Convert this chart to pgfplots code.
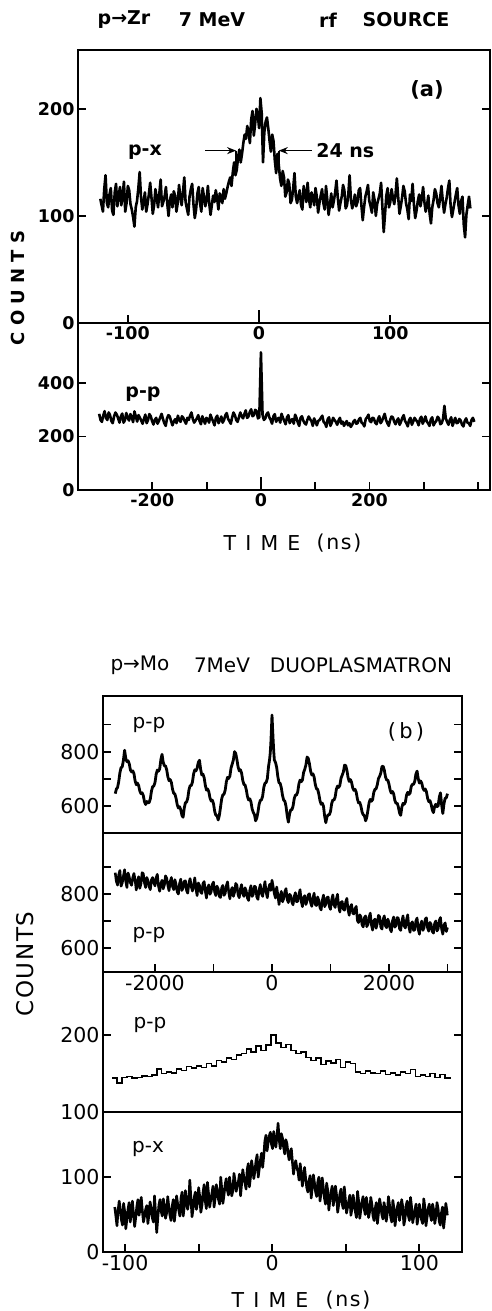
\documentclass[border=0pt]{standalone}
\usepackage{fontspec}
\setmainfont{DejaVu Sans}
\usepackage{pgfplots}
\pgfplotsset{compat=1.18}
\usetikzlibrary{arrows.meta}

\newcommand\fa{\fontsize{17.5}{20}\selectfont\bfseries}
\newcommand\fb{\fontsize{20.5}{24}\selectfont}

\pgfplotsset{panel/.style={scale only axis, anchor=south west,
    axis line style={line width=2pt},
    every tick/.style={black, line width=1.8pt},
    major tick length=8pt, tick align=inside,
    xtick pos=left, ytick pos=both,
    /pgf/number format/assume math mode=true},
  trace/.style={black, line width=2.6pt, line join=round, mark=none}}

\begin{document}
\begin{tikzpicture}
\useasboundingbox (0pt,0pt) rectangle (492pt,1311pt);

% ---------- (a) p-x ----------
\begin{axis}[panel, at={(78pt,988pt)}, width=412pt, height=273pt,
  xmin=-138, xmax=176, ymin=0, ymax=255,
  xtick={-100,0,100}, ytick={0,100,200},
  tick label style={font=\fa},
  extra x ticks={0}, extra x tick labels={}, extra x tick style={major tick length=13pt}]
\addplot[trace] table {
-121 116
-120 110
-119 104
-118 125
-117 138
-116 112
-115 108
-114 120
-113 126
-112 105
-111 101
-110 122
-109 130
-108 109
-107 119
-106 127
-105 110
-104 118
-103 132
-102 104
-101 112
-100 128
-99 124
-98 111
-97 106
-96 99
-95 90
-94 108
-93 114
-92 126
-91 141
-90 118
-89 106
-88 113
-87 122
-86 104
-85 111
-84 120
-83 131
-82 117
-81 102
-80 110
-79 125
-78 117
-77 108
-76 121
-75 134
-74 109
-73 113
-72 118
-71 127
-70 112
-69 100
-68 114
-67 120
-66 108
-65 123
-64 119
-63 104
-62 112
-61 129
-60 118
-59 110
-58 122
-57 136
-56 113
-55 107
-54 101
-53 118
-52 125
-51 130
-50 111
-49 98
-48 106
-47 121
-46 127
-45 112
-44 104
-43 126
-42 118
-41 109
-40 115
-39 128
-38 112
-37 101
-36 110
-35 119
-34 113
-33 124
-32 117
-31 106
-30 121
-29 118
-28 112
-27 125
-26 116
-25 121
-24 127
-23 132
-22 136
-21 128
-20 141
-19 150
-18 138
-17 143
-16 155
-15 162
-14 150
-13 158
-12 168
-11 176
-10 172
-9 184
-8 178
-7 168
-6 190
-5 198
-4 175
-3 186
-2 200
-1 195
0 182
1 210
2 196
3 150
4 178
5 188
6 192
7 182
8 170
9 160
10 176
11 170
12 152
13 140
14 158
15 148
16 135
17 128
18 142
19 136
20 118
21 122
22 134
23 130
24 112
25 115
26 126
27 140
28 118
29 112
30 119
31 124
32 110
33 106
34 128
35 120
36 113
37 131
38 116
39 108
40 122
41 117
42 110
43 126
44 118
45 103
46 112
47 119
48 125
49 112
50 106
51 128
52 115
53 101
54 110
55 121
56 108
57 114
58 122
59 133
60 117
61 105
62 112
63 118
64 129
65 124
66 107
67 110
68 120
69 138
70 115
71 107
72 112
73 120
74 109
75 113
76 124
77 126
78 110
79 96
80 108
81 118
82 123
83 129
84 114
85 109
86 103
87 122
88 115
89 100
90 111
91 116
92 121
93 131
94 108
95 85
96 102
97 119
98 126
99 108
100 113
101 125
102 117
103 111
104 120
105 135
106 118
107 102
108 109
109 117
110 128
111 123
112 112
113 106
114 97
115 120
116 114
117 130
118 111
119 98
120 105
121 114
122 120
123 109
124 116
125 127
126 113
127 104
128 110
129 119
130 102
131 93
132 108
133 115
134 125
135 121
136 112
137 108
138 117
139 128
140 114
141 103
142 111
143 117
144 126
145 133
146 109
147 99
148 106
149 113
150 120
151 126
152 110
153 102
154 114
155 118
156 92
157 80
158 101
159 110
160 118
161 107
};
\draw[-{Stealth[length=9pt,width=7pt]}, line width=1.6pt] (axis cs:-41,161) -- (axis cs:-17.5,161);
\draw[line width=1.6pt] (axis cs:-17.5,161) -- (axis cs:-17.5,140);
\draw[-{Stealth[length=9pt,width=7pt]}, line width=1.6pt] (axis cs:40,161) -- (axis cs:15,161);
\draw[line width=1.6pt] (axis cs:15,161) -- (axis cs:15,140);
\node[anchor=west, font=\fontsize{19}{22}\selectfont\bfseries] at (axis cs:41,161) {24 ns};
\end{axis}

% ---------- (a) p-p ----------
\begin{axis}[panel, at={(78pt,821pt)}, width=412pt, height=167pt,
  xmin=-337, xmax=422, ymin=0, ymax=625,
  xtick={-200,-100,...,400}, xticklabels={-200,,0,,200,,},
  ytick={0,200,400},
  tick label style={font=\fa},
  extra x ticks={0}, extra x tick labels={}, extra x tick style={major tick length=13pt}]
\addplot[trace] table {
-298 285
-295.5 262
-293 255
-290.5 278
-288 295
-285.5 270
-283 262
-280.5 290
-278 280
-275.5 258
-273 250
-270.5 276
-268 290
-265.5 282
-263 268
-260.5 252
-258 275
-255.5 286
-253 252
-250.5 262
-248 288
-245.5 270
-243 260
-240.5 284
-238 272
-235.5 254
-233 294
-230.5 275
-228 256
-225.5 280
-223 270
-220.5 260
-218 248
-215.5 266
-213 282
-210.5 250
-208 262
-205.5 284
-203 276
-200.5 258
-198 245
-195.5 262
-193 270
-190.5 248
-188 258
-185.5 272
-183 285
-180.5 266
-178 250
-175.5 240
-173 268
-170.5 280
-168 275
-165.5 258
-163 242
-160.5 256
-158 265
-155.5 250
-153 278
-150.5 262
-148 255
-145.5 276
-143 270
-140.5 258
-138 248
-135.5 270
-133 262
-130.5 278
-128 290
-125.5 266
-123 252
-120.5 260
-118 268
-115.5 280
-113 258
-110.5 246
-108 276
-105.5 262
-103 248
-100.5 270
-98 265
-95.5 252
-93 282
-90.5 268
-88 256
-85.5 242
-83 270
-80.5 278
-78 250
-75.5 262
-73 275
-70.5 252
-68 262
-65.5 280
-63 288
-60.5 266
-58 258
-55.5 248
-53 272
-50.5 290
-48 280
-45.5 262
-43 255
-40.5 272
-38 290
-35.5 276
-33 268
-30.5 284
-28 298
-25.5 270
-23 275
-20.5 292
-18 302
-15.5 276
-13 280
-10.5 300
-8 295
-5.5 268
-3 272
0 515
3 280
5.5 262
8 268
10.5 284
13 290
15.5 272
18 262
20.5 248
23 276
25.5 284
28 255
30.5 266
33 270
35.5 252
38 285
40.5 270
43 258
45.5 246
48 272
50.5 280
53 250
55.5 262
58 265
60.5 248
63 282
65.5 270
68 252
70.5 240
73 270
75.5 276
78 260
80.5 250
83 245
85.5 262
88 275
90.5 265
93 258
95.5 240
98 268
100.5 256
103 242
105.5 258
108 262
110.5 270
113 278
115.5 255
118 250
120.5 236
123 265
125.5 272
128 240
130.5 252
133 270
135.5 262
138 255
140.5 244
143 260
145.5 270
148 248
150.5 256
153 240
155.5 250
158 258
160.5 242
163 250
165.5 236
168 244
170.5 256
173 262
175.5 248
178 250
180.5 264
183 270
185.5 252
188 248
190.5 238
193 265
195.5 272
198 282
200.5 258
203 254
205.5 270
208 268
210.5 252
213 246
215.5 264
218 276
220.5 250
223 258
225.5 272
228 285
230.5 262
233 250
235.5 240
238 262
240.5 275
243 272
245.5 256
248 246
250.5 260
253 268
255.5 244
258 255
260.5 270
263 280
265.5 258
268 250
270.5 238
273 262
275.5 270
278 244
280.5 256
283 270
285.5 262
288 256
290.5 242
293 266
295.5 274
298 248
300.5 260
303 275
305.5 256
308 250
310.5 240
313 264
315.5 272
318 242
320.5 252
323 258
325.5 274
328 268
330.5 246
333 250
335.5 266
338 315
340.5 268
343 255
345.5 244
348 262
350.5 272
353 240
355.5 256
358 270
360.5 250
363 252
365.5 266
368 260
370.5 244
373 238
375.5 258
378 268
380.5 252
383 250
385.5 240
388 262
390.5 270
393 255
};
\end{axis}

% ---------- (b) p-p periodic ----------
\begin{axis}[panel, at={(103pt,478pt)}, width=359pt, height=137pt,
  xmin=-2889, xmax=3248, ymin=500, ymax=1005,
  xtick=\empty, ytick={600,700,800,900}, yticklabels={600,,800,},
  tick label style={font=\fb}]
\addplot[trace, line width=2.8pt] table {
-2680 645
-2660 662
-2640 668
-2620 690
-2600 722
-2580 741
-2560 744
-2540 768
-2520 805
-2500 775
-2480 763
-2460 766
-2440 755
-2420 732
-2400 725
-2380 729
-2360 719
-2340 692
-2320 678
-2300 684
-2280 675
-2260 655
-2240 645
-2220 648
-2200 638
-2180 615
-2160 605
-2140 616
-2120 612
-2100 612
-2080 626
-2060 655
-2040 671
-2020 673
-2000 686
-1980 717
-1960 732
-1940 728
-1920 736
-1900 770
-1880 790
-1860 761
-1840 748
-1820 747
-1800 733
-1780 707
-1760 693
-1740 697
-1720 686
-1700 661
-1680 646
-1660 644
-1640 628
-1620 604
-1600 592
-1580 597
-1560 586
-1540 565
-1520 558
-1500 592
-1480 612
-1460 614
-1440 628
-1420 659
-1400 674
-1380 675
-1360 688
-1340 718
-1320 733
-1300 729
-1280 739
-1260 760
-1240 768
-1220 735
-1200 714
-1180 717
-1160 704
-1140 676
-1120 658
-1100 662
-1080 652
-1060 629
-1040 618
-1020 621
-1000 608
-980 580
-960 565
-940 564
-920 548
-900 565
-880 595
-860 626
-840 641
-820 643
-800 658
-780 689
-760 705
-740 701
-720 710
-700 740
-680 754
-660 770
-640 800
-620 793
-600 771
-580 744
-560 729
-540 733
-520 721
-500 694
-480 679
-460 677
-440 660
-420 635
-400 622
-380 626
-360 615
-340 589
-320 576
-300 568
-280 545
-260 555
-240 577
-220 606
-200 620
-180 622
-160 636
-140 668
-120 684
-100 686
-80 700
-60 744
-40 773
-30 795
-20 830
-10 880
0 935
10 885
20 840
30 800
40 769
60 760
80 742
100 707
120 685
140 683
160 666
180 638
200 621
220 617
240 598
260 563
280 540
300 570
320 585
340 586
360 599
380 627
400 640
420 640
440 652
460 681
480 695
500 689
520 695
540 723
560 735
580 751
600 780
620 775
640 755
660 728
680 714
700 718
720 706
740 679
760 663
780 661
800 644
820 619
840 606
860 610
880 599
900 562
920 538
940 560
960 567
980 567
1000 579
1020 608
1040 622
1060 621
1080 633
1100 661
1120 673
1140 668
1160 676
1180 702
1200 713
1220 725
1240 750
1260 749
1280 732
1300 705
1320 690
1340 697
1360 687
1380 666
1400 657
1420 661
1440 650
1460 625
1480 611
1500 613
1520 599
1540 577
1560 567
1580 564
1600 545
1620 558
1640 584
1660 612
1680 624
1700 617
1720 623
1740 650
1760 661
1780 663
1800 678
1820 701
1840 709
1860 721
1880 745
1900 746
1920 732
1940 707
1960 695
1980 695
2000 680
2020 658
2040 647
2060 653
2080 644
2100 620
2120 609
2140 610
2160 596
2180 574
2200 565
2220 595
2240 609
2260 606
2280 614
2300 640
2320 650
2340 642
2360 647
2380 671
2400 680
2420 679
2440 690
2460 717
2480 728
2500 700
2520 684
2540 692
2560 684
2580 665
2600 657
2620 662
2640 652
2660 628
2680 616
2700 619
2720 606
2740 585
2760 575
2780 598
2800 606
2820 597
2840 600
2860 632
2880 648
2900 604
2920 572
2940 608
2960 628
2980 630
3000 645
};
\end{axis}

% ---------- (b) p-p sloped ----------
\begin{axis}[panel, at={(103pt,339pt)}, width=359pt, height=139pt,
  xmin=-2889, xmax=3248, ymin=510, ymax=1025,
  xtick={-2000,-1000,...,3000}, xticklabels={-2000,,0,,2000,},
  ytick={600,700,800,900}, yticklabels={600,,800,},
  tick label style={font=\fb}]
\addplot[trace] table {
-2680 878
-2660 845
-2640 832
-2620 870
-2600 886
-2580 828
-2560 840
-2540 865
-2520 889
-2500 846
-2480 823
-2460 877
-2440 862
-2420 840
-2400 831
-2380 860
-2360 875
-2340 851
-2320 814
-2300 842
-2280 863
-2260 820
-2240 837
-2220 878
-2200 874
-2180 840
-2160 823
-2140 860
-2120 849
-2100 826
-2080 815
-2060 852
-2040 860
-2020 840
-2000 829
-1980 860
-1960 872
-1940 828
-1920 809
-1900 838
-1880 850
-1860 818
-1840 832
-1820 866
-1800 858
-1780 830
-1760 811
-1740 845
-1720 860
-1700 826
-1680 815
-1660 852
-1640 835
-1620 806
-1600 799
-1580 838
-1560 854
-1540 812
-1520 821
-1500 846
-1480 848
-1460 811
-1440 802
-1420 840
-1400 856
-1380 826
-1360 810
-1340 832
-1320 859
-1300 818
-1280 793
-1260 840
-1240 832
-1220 806
-1200 801
-1180 838
-1160 845
-1140 810
-1120 784
-1100 822
-1080 833
-1060 798
-1040 807
-1020 835
-1000 843
-980 805
-960 793
-940 828
-920 819
-900 790
-880 786
-860 822
-840 831
-820 794
-800 801
-780 830
-760 844
-740 806
-720 781
-700 812
-680 823
-660 790
-640 805
-620 838
-600 832
-580 796
-560 785
-540 818
-520 834
-500 800
-480 790
-460 822
-440 810
-420 784
-400 775
-380 812
-360 830
-340 790
-320 797
-300 828
-280 825
-260 788
-240 779
-220 815
-200 834
-180 800
-160 790
-140 822
-120 845
-100 805
-80 785
-60 818
-40 835
-20 812
0 850
20 826
40 800
60 784
80 825
100 796
120 760
140 790
160 809
180 770
200 782
220 808
240 819
260 778
280 767
300 798
320 793
340 768
360 759
380 790
400 804
420 770
440 772
460 798
480 815
500 772
520 752
540 786
560 793
580 760
600 774
620 796
640 800
660 766
680 753
700 784
720 802
740 760
760 756
780 788
800 776
820 748
840 740
860 776
880 795
900 752
920 761
940 786
960 788
980 752
1000 742
1020 778
1040 796
1060 758
1080 749
1100 780
1120 798
1140 752
1160 732
1180 768
1200 771
1220 742
1240 739
1260 770
1280 783
1300 740
1320 720
1340 752
1360 760
1380 728
1400 725
1420 745
1440 753
1460 700
1480 693
1500 722
1520 715
1540 684
1560 677
1580 712
1600 718
1620 678
1640 686
1660 714
1680 728
1700 684
1720 665
1740 700
1760 706
1780 672
1800 689
1820 720
1840 715
1860 676
1880 669
1900 705
1920 718
1940 680
1960 674
1980 706
2000 694
2020 668
2040 659
2060 700
2080 714
2100 676
2120 682
2140 712
2160 709
2180 670
2200 664
2220 698
2240 718
2260 680
2280 673
2300 704
2320 722
2340 676
2360 657
2380 690
2400 696
2420 664
2440 666
2460 700
2480 710
2500 668
2520 650
2540 686
2560 699
2580 664
2600 674
2620 706
2640 711
2660 672
2680 661
2700 694
2720 687
2740 660
2760 654
2780 690
2800 699
2820 662
2840 669
2860 702
2880 712
2900 668
2920 650
2940 684
2960 692
2980 660
3000 675
};
\end{axis}

% ---------- (b) p-p histogram ----------
\begin{axis}[panel, at={(103pt,199pt)}, width=359pt, height=140pt,
  xmin=-2889, xmax=3248, ymin=100, ymax=282,
  xtick=\empty, ytick={100,200},
  tick label style={font=\fb}]
\addplot[black, line width=1.5pt, const plot, mark=none] table {
-2735 144
-2650 138
-2565 145
-2480 146
-2395 144
-2310 145
-2225 147
-2140 146
-2055 148
-1970 156
-1885 150
-1800 152
-1715 151
-1630 156
-1545 154
-1460 159
-1375 157
-1290 160
-1205 158
-1120 163
-1035 160
-950 167
-865 165
-780 170
-695 168
-610 174
-525 176
-440 182
-355 178
-270 186
-185 180
-100 187
-15 200
70 190
155 184
240 188
325 180
410 176
495 178
580 171
665 167
750 170
835 162
920 166
1005 164
1090 168
1175 158
1260 165
1345 163
1430 152
1515 150
1600 153
1685 151
1770 150
1855 153
1940 149
2025 151
2110 148
2195 152
2280 150
2365 155
2450 146
2535 148
2620 146
2705 150
2790 145
2875 149
2960 144
3040 146
};
\end{axis}

% ---------- (b) p-x ----------
\begin{axis}[panel, at={(103pt,59pt)}, width=359pt, height=140pt,
  xmin=-115, xmax=129, ymin=0, ymax=187,
  xtick={-100,-50,...,100}, xticklabels={-100,,0,,100},
  ytick={0,100},
  tick label style={font=\fb}]
\addplot[trace] table {
-107 60
-106.25 48
-105.5 35
-104.75 55
-104 68
-103.25 58
-102.5 43
-101.75 36
-101 65
-100.25 54
-99.5 31
-98.75 44
-98 57
-97.25 66
-96.5 40
-95.75 52
-95 68
-94.25 50
-93.5 34
-92.75 46
-92 61
-91.25 70
-90.5 49
-89.75 58
-89 73
-88.25 55
-87.5 40
-86.75 48
-86 57
-85.25 62
-84.5 38
-83.75 50
-83 67
-82.25 58
-81.5 46
-80.75 40
-80 75
-79.25 52
-78.5 26
-77.75 45
-77 63
-76.25 70
-75.5 55
-74.75 48
-74 71
-73.25 62
-72.5 45
-71.75 52
-71 74
-70.25 60
-69.5 49
-68.75 42
-68 61
-67.25 70
-66.5 41
-65.75 55
-65 75
-64.25 64
-63.5 56
-62.75 48
-62 72
-61.25 80
-60.5 48
-59.75 60
-59 82
-58.25 70
-57.5 57
-56.75 66
-56 96
-55.25 72
-54.5 47
-53.75 58
-53 73
-52.25 80
-51.5 57
-50.75 66
-50 86
-49.25 74
-48.5 53
-47.75 62
-47 80
-46.25 90
-45.5 68
-44.75 58
-44 93
-43.25 78
-42.5 60
-41.75 70
-41 78
-40.25 88
-39.5 60
-38.75 72
-38 90
-37.25 82
-36.5 70
-35.75 64
-35 100
-34.25 84
-33.5 65
-32.75 76
-32 90
-31.25 98
-30.5 83
-29.75 76
-29 100
-28.25 88
-27.5 75
-26.75 82
-26 105
-25.25 95
-24.5 81
-23.75 88
-23 94
-22.25 104
-21.5 75
-20.75 92
-20 110
-19.25 100
-18.5 92
-17.75 84
-17 110
-16.25 118
-15.5 87
-14.75 100
-14 122
-13.25 112
-12.5 98
-11.75 108
-11 122
-10.25 130
-9.5 100
-8.75 112
-8 123
-7.25 132
-6.5 113
-5.75 128
-5 148
-4.25 156
-3.5 135
-2.75 146
-2 155
-1.25 160
-0.5 144
0.25 138
1 161
1.75 150
2.5 140
3.25 155
4 172
4.75 150
5.5 138
6.25 158
7 152
7.75 140
8.5 131
9.25 150
10 145
10.75 132
11.5 123
12.25 134
13 138
13.75 120
14.5 104
15.25 116
16 122
16.75 112
17.5 108
18.25 96
19 118
19.75 106
20.5 88
21.25 100
22 113
22.75 98
23.5 86
24.25 80
25 95
25.75 102
26.5 72
27.25 86
28 103
28.75 92
29.5 80
30.25 74
31 94
31.75 100
32.5 68
33.25 80
34 99
34.75 86
35.5 72
36.25 64
37 92
37.75 82
38.5 56
39.25 70
40 80
40.75 88
41.5 62
42.25 72
43 88
43.75 76
44.5 53
45.25 64
46 78
46.75 84
47.5 65
48.25 58
49 87
49.75 70
50.5 52
51.25 60
52 68
52.75 76
53.5 49
54.25 58
55 76
55.75 66
56.5 54
57.25 46
58 81
58.75 68
59.5 45
60.25 56
61 67
61.75 74
62.5 58
63.25 50
64 73
64.75 62
65.5 46
66.25 54
67 73
67.75 64
68.5 48
69.25 42
70 58
70.75 66
71.5 38
72.25 52
73 71
73.75 62
74.5 50
75.25 44
76 66
76.75 58
77.5 41
78.25 52
79 74
79.75 63
80.5 47
81.25 40
82 69
82.75 58
83.5 35
84.25 48
85 60
85.75 66
86.5 42
87.25 52
88 70
88.75 60
89.5 36
90.25 44
91 62
91.75 68
92.5 49
93.25 42
94 73
94.75 60
95.5 39
96.25 48
97 56
97.75 64
98.5 37
99.25 46
100 64
100.75 56
101.5 43
102.25 38
103 71
103.75 60
104.5 35
105.25 46
106 58
106.75 64
107.5 49
108.25 42
109 64
109.75 56
110.5 38
111.25 48
112 66
112.75 58
113.5 41
114.25 36
115 52
115.75 60
116.5 32
117.25 46
118 65
118.75 55
119 49
};
\end{axis}

% ---------- texts ----------
\begin{scope}[every node/.style={inner sep=0pt}]
\node[font=\fontsize{19}{22}\selectfont\bfseries] at (124pt,1291pt) {p→Zr};
\node[font=\fontsize{19}{22}\selectfont\bfseries] at (212pt,1291pt) {7 MeV};
\node[font=\fontsize{19}{22}\selectfont\bfseries] at (328pt,1291pt) {rf};
\node[font=\fontsize{19}{22}\selectfont\bfseries] at (406pt,1291pt) {SOURCE};
\node[font=\fontsize{21}{24}\selectfont\bfseries] at (427pt,1221pt) {(a)};
\node[font=\fontsize{19}{22}\selectfont\bfseries] at (145pt,1159pt) {p-x};
\node[font=\fontsize{19}{22}\selectfont\bfseries] at (143pt,917pt) {p-p};
\node[font=\fontsize{18}{22}\selectfont\bfseries\addfontfeature{LetterSpace=34}, rotate=90] at (18pt,1023pt) {COUNTS};
\node[font=\fontsize{20.5}{24}\selectfont\addfontfeature{LetterSpace=45}] at (262pt,768pt) {TIME};
\node[font=\fontsize{20.5}{24}\selectfont\addfontfeature{LetterSpace=8}] at (339pt,768pt) {(ns)};

\node[font=\fontsize{20}{24}\selectfont] at (140pt,646pt) {p→Mo};
\node[font=\fontsize{20}{24}\selectfont] at (222pt,646pt) {7MeV};
\node[font=\fontsize{20}{24}\selectfont] at (361pt,646pt) {DUOPLASMATRON};
\node[font=\fontsize{21}{24}\selectfont\addfontfeature{LetterSpace=15}] at (406pt,579pt) {(b)};
\node[font=\fontsize{20}{24}\selectfont] at (149pt,586pt) {p-p};
\node[font=\fontsize{20}{24}\selectfont] at (149pt,376pt) {p-p};
\node[font=\fontsize{20}{24}\selectfont] at (150pt,286pt) {p-p};
\node[font=\fontsize{20}{24}\selectfont] at (148pt,162pt) {p-x};
\node[font=\fontsize{23}{26}\selectfont\addfontfeature{LetterSpace=7}, rotate=90] at (25pt,347pt) {COUNTS};
\node[font=\fontsize{20.5}{24}\selectfont\addfontfeature{LetterSpace=45}] at (270pt,11pt) {TIME};
\node[font=\fontsize{20.5}{24}\selectfont\addfontfeature{LetterSpace=8}] at (348pt,11pt) {(ns)};
\end{scope}
\end{tikzpicture}
\end{document}
